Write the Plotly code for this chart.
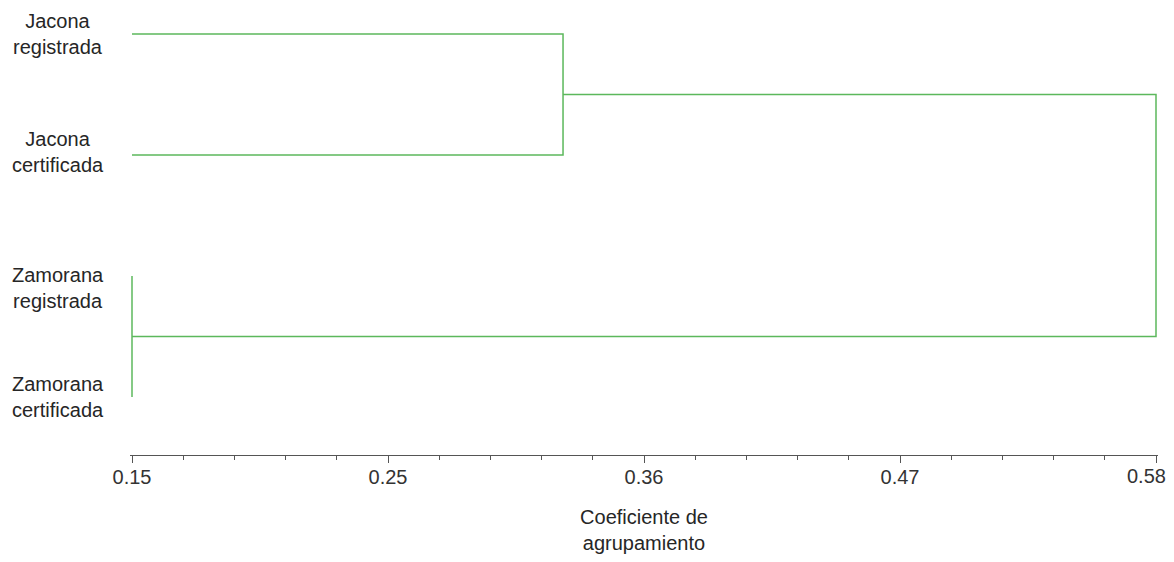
import plotly.graph_objects as go

# ---- data ----
leaf_labels = ["Jacona<br>registrada", "Jacona<br>certificada",
               "Zamorana<br>registrada", "Zamorana<br>certificada"]
leaf_pos = [1, 2, 3, 4]                 # leaf order, top to bottom
# merges: (child_a, child_b, height); children: "L<i>" leaf or "M<j>" merge
merge_a = ["L0", "L2", "M0"]
merge_b = ["L1", "L3", "M1"]
merge_h = [0.331, 0.15, 0.58]

axis_min, axis_max = 0.15, 0.58
tick_text = ["0.15", "0.25", "0.36", "0.47", "0.58"]
x_title = "Coeficiente de<br>agrupamiento"

# label fine offsets (style, px)
label_yshift = [0, 3, -12, 0]

# ---- build dendrogram segments ----
node_y, node_h = {}, {}
for i, p in enumerate(leaf_pos):
    node_y[f"L{i}"] = p
    node_h[f"L{i}"] = axis_min
xs, ys = [], []
for j, (a, b, h) in enumerate(zip(merge_a, merge_b, merge_h)):
    xs += [node_h[a], h, h, node_h[b], None]
    ys += [node_y[a], node_y[a], node_y[b], node_y[b], None]
    node_y[f"M{j}"] = (node_y[a] + node_y[b]) / 2
    node_h[f"M{j}"] = h

GREEN = "#5cb85c"
FONT = "Liberation Sans"
fig = go.Figure()
fig.add_trace(go.Scatter(x=xs, y=ys, mode="lines",
                         line=dict(color=GREEN, width=1.5),
                         hoverinfo="skip", showlegend=False))

step = (axis_max - axis_min) / (len(tick_text) - 1)
major_vals = [axis_min + i * step for i in range(len(tick_text))]
minor_vals = [axis_min + i * step / 5 for i in range(5 * (len(tick_text) - 1) + 1) if i % 5]
# last label is drawn as an annotation, nudged left as in the reference
shown_text = tick_text[:-1] + [""]

for lab, p, ysh in zip(leaf_labels, leaf_pos, label_yshift):
    fig.add_annotation(x=-0.070, xref="paper", y=p, yref="y", text=lab,
                       showarrow=False, xanchor="center", yanchor="middle",
                       align="center", yshift=ysh,
                       font=dict(family=FONT, size=20, color="#262626"))

fig.add_annotation(x=major_vals[-1], xref="x", y=0, yref="paper",
                   text=tick_text[-1], showarrow=False, xanchor="center",
                   yanchor="top", xshift=-10, yshift=-8,
                   font=dict(family=FONT, size=20, color="#333"))

pad = 0.00084
fig.update_layout(
    width=1158, height=546,
    margin=dict(l=122, r=8, t=2, b=99, autoexpand=False),
    plot_bgcolor="white", paper_bgcolor="white",
    xaxis=dict(range=[axis_min - pad, axis_max + pad], automargin=False,
               tickmode="array", tickvals=major_vals, ticktext=shown_text,
               ticks="outside", ticklen=7, tickcolor="#555", tickwidth=1,
               showline=True, linecolor="#555", linewidth=1,
               showgrid=False, zeroline=False, ticklabeloverflow="allow",
               ticklabelstandoff=-3,
               tickfont=dict(family=FONT, size=20, color="#333"),
               minor=dict(tickmode="array", tickvals=minor_vals, ticks="outside",
                          ticklen=4, tickcolor="#555", showgrid=False),
               title=dict(text=x_title, standoff=32,
                          font=dict(family=FONT, size=20, color="#262626"))),
    yaxis=dict(range=[4.479, 0.8017], showticklabels=False, showgrid=False,
               zeroline=False, showline=False, ticks="", automargin=False),
)
fig.write_html("out.html")
